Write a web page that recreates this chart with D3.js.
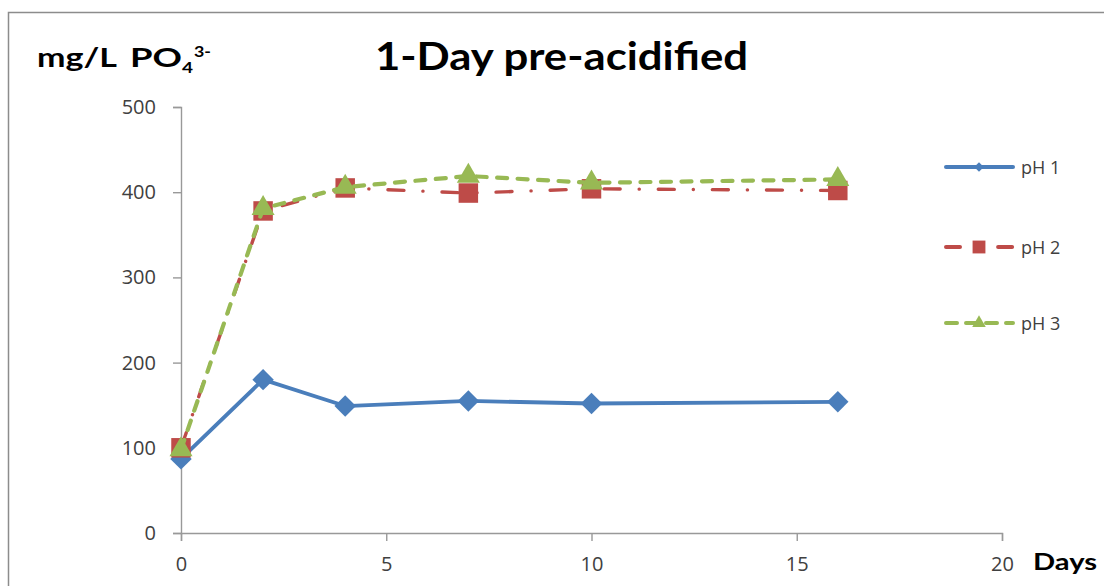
<!DOCTYPE html>
<html>
<head>
<meta charset="utf-8">
<script src="https://cdn.jsdelivr.net/npm/d3@7"></script>
<style>
  html, body { margin: 0; padding: 0; background: #fff; }
  svg { display: block; }
</style>
</head>
<body>
<svg id="chart" width="1104" height="586"></svg>
<script>
// Sampling days
const days = [0, 2, 4, 7, 10, 16];
// Phosphate concentration (mg/L PO4 3-) per series
const ph1 = [87, 180, 149, 155, 152, 154];
const ph2 = [100, 378, 405, 399, 404, 402];
const ph3 = [98, 381, 406, 419, 411, 415];
const seriesNames = ["pH 1", "pH 2", "pH 3"];
const xTicks = [0, 5, 10, 15, 20];
const yTicks = [0, 100, 200, 300, 400, 500];

const svg = d3.select("#chart");
const W = 1104, H = 586;

// outer chart frame (runs off the right and bottom edges)
svg.append("rect")
  .attr("x", 8.5).attr("y", 12.5)
  .attr("width", W + 20).attr("height", H + 20)
  .attr("fill", "#fff").attr("stroke", "#8c8c8c").attr("stroke-width", 1.5);

const x = d3.scaleLinear().domain([0, 20]).range([181, 1002]);
const y = d3.scaleLinear().domain([0, 500]).range([533, 107]);

const tickFont = "'Open Sans', 'Liberation Sans', sans-serif";
const boldFont = "Lato, 'Open Sans', sans-serif";
const axisColor = "#999999";

// y axis
const yAxis = svg.append("g").attr("transform", `translate(${x(0)},0)`)
  .call(d3.axisLeft(y).tickValues(yTicks).tickSize(8).tickPadding(17).tickFormat(d3.format("d")));
// x axis
const xAxis = svg.append("g").attr("transform", `translate(0,${y(0)})`)
  .call(d3.axisBottom(x).tickValues(xTicks).tickSize(8).tickPadding(16).tickFormat(d3.format("d")));

[yAxis, xAxis].forEach(g => {
  g.selectAll("path, line").attr("stroke", axisColor).attr("stroke-width", 1.4);
  g.selectAll("text").attr("fill", "#404040")
    .style("font-family", tickFont).style("font-size", "20px");
});

// chart title
svg.append("text")
  .attr("x", 375).attr("y", 70)
  .attr("textLength", 373).attr("lengthAdjust", "spacingAndGlyphs")
  .style("font-family", boldFont)
  .style("font-weight", "bold").style("font-size", "39px")
  .attr("fill", "#000")
  .text("1-Day pre-acidified");

// y axis unit label: mg/L PO4(3-)
const unit = svg.append("g")
  .style("font-family", boldFont).style("font-weight", "bold").attr("fill", "#000");
unit.append("text").attr("x", 37).attr("y", 67)
  .attr("textLength", 80).attr("lengthAdjust", "spacingAndGlyphs")
  .style("font-size", "26px").text("mg/L");
unit.append("text").attr("x", 130).attr("y", 67)
  .attr("textLength", 52).attr("lengthAdjust", "spacingAndGlyphs")
  .style("font-size", "26px").text("PO");
unit.append("text").attr("x", 182).attr("y", 73)
  .attr("textLength", 11).attr("lengthAdjust", "spacingAndGlyphs")
  .style("font-size", "16px").text("4");
unit.append("text").attr("x", 194).attr("y", 57)
  .attr("textLength", 17).attr("lengthAdjust", "spacingAndGlyphs")
  .style("font-size", "16px").text("3-");

// x axis unit label
svg.append("text")
  .attr("x", 1033).attr("y", 570)
  .attr("textLength", 64).attr("lengthAdjust", "spacingAndGlyphs")
  .style("font-family", boldFont)
  .style("font-weight", "bold").style("font-size", "23px")
  .attr("fill", "#000")
  .text("Days");

// series styling
const styles = [
  { color: "#4a7ebb", width: 3.8, dash: null, ldash: null, marker: d3.symbolSquare, rot: 45, size: 230, lsize: 45 },
  { color: "#be4b48", width: 3.4, dash: "16 19 0.1 19", ldash: "14 19 0.1 19", marker: d3.symbolSquare, rot: 0, size: 380, lsize: 165 },
  { color: "#98b954", width: 4.2, dash: "10 10.5", ldash: "11 9", marker: d3.symbolTriangle, rot: 0, size: 230, lsize: 80 }
];
const allData = [ph1, ph2, ph3];

const line = d3.line().x(d => x(d.day)).y(d => y(d.v));

allData.forEach((vals, i) => {
  const st = styles[i];
  const pts = days.map((d, j) => ({ day: d, v: vals[j] }));
  svg.append("path")
    .datum(pts)
    .attr("d", line)
    .attr("fill", "none")
    .attr("stroke", st.color)
    .attr("stroke-width", st.width)
    .attr("stroke-linecap", "round")
    .attr("stroke-linejoin", "round")
    .attr("stroke-dasharray", st.dash);
  svg.append("g").selectAll("path")
    .data(pts).join("path")
    .attr("transform", d => `translate(${x(d.day)},${y(d.v)}) rotate(${st.rot})`)
    .attr("d", d3.symbol().type(st.marker).size(st.size))
    .attr("fill", st.color);
});

// legend
const legendY = [167, 247, 323];
seriesNames.forEach((name, i) => {
  const st = styles[i];
  const g = svg.append("g").attr("transform", `translate(0,${legendY[i]})`);
  g.append("line")
    .attr("x1", 946).attr("x2", 1013).attr("y1", 0).attr("y2", 0)
    .attr("stroke", st.color).attr("stroke-width", 4)
    .attr("stroke-linecap", "round")
    .attr("stroke-dasharray", st.ldash);
  g.append("path")
    .attr("transform", `translate(979,0) rotate(${st.rot})`)
    .attr("d", d3.symbol().type(st.marker).size(st.lsize))
    .attr("fill", st.color);
  g.append("text")
    .attr("x", 1021).attr("y", 7)
    .style("font-family", tickFont).style("font-size", "18px")
    .attr("fill", "#404040")
    .text(name);
});
</script>
</body>
</html>
